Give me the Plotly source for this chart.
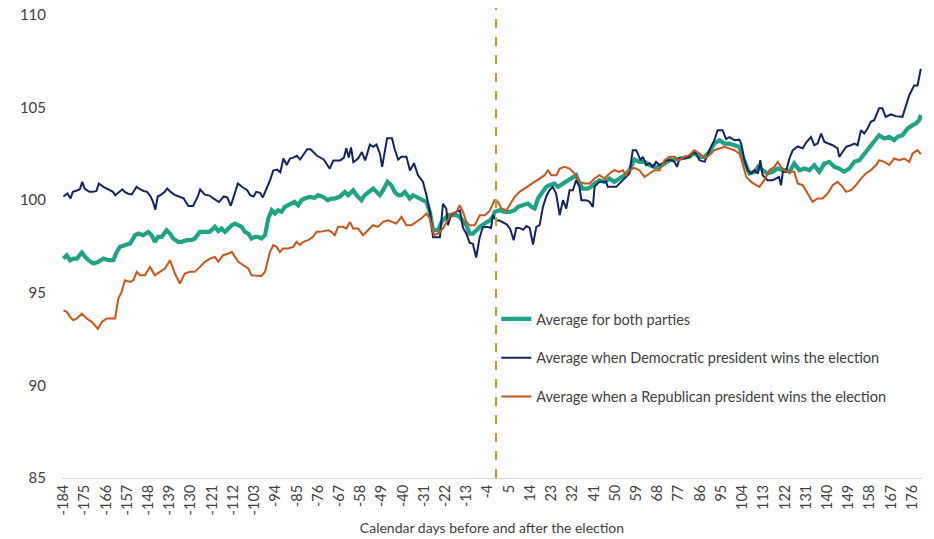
import plotly.graph_objects as go

# ---- data (x = calendar-day position, y = index value) ----
dem_days = [-184, -182.3, -181, -180, -178, -177, -176, -175, -173, -171.5, -170, -169, -167, -166, -164, -163, -162,
            -160.5, -159, -158, -156.5, -155, -153, -151.5, -150, -148.5, -147, -146, -145, -144, -142.5, -141, -140,
            -138.5, -137, -135, -133, -131, -129, -127, -126, -124, -122, -120.4, -118, -116, -114.5, -113, -111.5,
            -110, -108, -106, -104.8, -103.3, -102.2, -100.6, -99.4, -97.6, -96.3, -95, -93.3, -92, -90.7, -89.3,
            -87.9, -86.5, -85, -83.6, -80.6, -79.2, -76.4, -73.6, -71, -69.5, -66.6, -65, -64, -63, -62, -61, -59,
            -57.4, -56, -54, -52.6, -51.2, -49.7, -48.8, -46.7, -44.6, -43.6, -42, -40.6, -38.5, -37, -35.3, -33.6,
            -31.5, -30, -28.5, -27.2, -24.3, -23, -21.6, -20.9, -19.6, -17.2, -15.8, -14.5, -13.1, -11.7, -10.3, -8.9,
            -7.5, -6.1, -4, -2.6, -1.8, -0.4, 1, 2.5, 4, 5.5, 7, 8.1, 9.5, 11, 12.4, 13.8, 15.2, 16.6, 18, 19.4, 20.8,
            22.2, 23.6, 25, 26.5, 27.9, 29.3, 30.7, 32.1, 33.5, 34.9, 35.7, 37.7, 39.2, 40.6, 41.3, 43.4, 46.2, 46.9,
            50.5, 51.9, 53.3, 54.7, 56.1, 57.5, 59, 60.8, 61.8, 63.2, 64.6, 66, 67.4, 68.8, 70.3, 71.7, 73.8, 75.2,
            76.3, 77.3, 79.4, 81.5, 83, 84.4, 85.8, 88, 89.3, 90.7, 92.1, 93.5, 95.6, 97.1, 98.5, 100.6, 102.7, 103.5,
            104.9, 106.3, 107.7, 109.2, 110.6, 111.6, 112.6, 114.7, 116.8, 118.2, 119.6, 120.4, 121.2, 122.5, 124,
            125.4, 127.5, 129.6, 131, 133.1, 134.5, 135.9, 137.4, 138.8, 140.9, 142.3, 144.4, 145.1, 146.5, 148, 150,
            151.5, 152.9, 154.3, 155.7, 157.1, 158.5, 159.9, 162, 163.4, 164.8, 167, 169.1, 171.9, 174.8, 176.9,
            178.3, 179.7]
dem_vals = [100.2, 100.36, 100.09, 100.45, 100.54, 100.6, 100.99, 100.63, 100.45, 100.45, 100.5, 100.9, 100.72, 100.65,
            100.55, 100.45, 100.27, 100.45, 100.59, 100.45, 100.35, 100.31, 100.72, 100.6, 100.5, 100.45, 100.2, 99.91,
            99.49, 100.2, 100.3, 100.45, 100.63, 100.45, 100.3, 100.2, 100.1, 99.69, 99.69, 100.2, 100.58, 100.3,
            100.25, 100.1, 99.9, 100.2, 100.15, 99.7, 100.3, 100.9, 100.7, 100.54, 100.27, 100.2, 100.45, 100.4,
            100.15, 100.7, 101.1, 101.6, 101.65, 101.5, 102.25, 101.9, 102.25, 102.3, 102.4, 102.2, 102.75, 102.75,
            102.4, 102.2, 101.7, 102.15, 102.15, 102.3, 102.8, 102.3, 102.85, 102.05, 102.25, 102.6, 102.15, 103.0,
            102.88, 103.0, 102.5, 101.8, 103.35, 103.35, 102.8, 102.2, 102.35, 102.35, 101.6, 102.0, 101.35, 101.0,
            100.27, 99.35, 98.0, 98.0, 99.8, 99.55, 98.65, 99.2, 99.4, 99.45, 98.5, 98.2, 97.7, 97.65, 96.9, 97.95,
            98.55, 98.55, 98.5, 99.19, 98.92, 98.9, 98.8, 98.7, 98.45, 97.84, 98.5, 98.5, 98.4, 98.6, 98.5, 97.6,
            98.56, 98.65, 99.64, 100.2, 100.54, 100.72, 100.36, 99.19, 100.0, 99.55, 100.54, 100.54, 101.08, 100.72,
            100.0, 100.0, 99.91, 99.64, 100.72, 101.0, 101.0, 100.72, 100.72, 100.9, 101.08, 101.26, 101.44, 102.7,
            102.7, 102.16, 102.34, 101.9, 102.0, 101.8, 102.07, 101.9, 102.0, 102.16, 102.16, 102.07, 101.8, 102.25,
            102.25, 102.34, 102.6, 102.5, 102.16, 102.07, 102.5, 102.88, 103.24, 103.78, 103.78, 103.3, 103.4, 103.24,
            103.27, 103.06, 102.16, 101.62, 101.44, 101.62, 101.44, 102.16, 101.35, 101.08, 101.08, 101.17, 101.26,
            100.8, 101.55, 101.53, 102.27, 102.7, 102.9, 102.8, 103.1, 103.42, 102.97, 103.06, 103.6, 103.15, 103.06,
            102.97, 102.8, 102.34, 102.6, 102.88, 102.97, 103.06, 102.97, 103.78, 103.6, 103.87, 104.23, 104.32,
            104.96, 104.96, 104.5, 104.63, 104.54, 104.5, 105.67, 106.2, 106.2, 107.1]

avg_days = [-184, -182.6, -181.2, -179.8, -178.3, -176.2, -174.8, -173.4, -171.3, -169.2, -167, -164.9, -162.8, -161.4,
            -160, -157.9, -155.7, -153.6, -152.2, -150.1, -148, -146.6, -145.2, -143.8, -142.3, -140.2, -138.8, -137.4,
            -135.3, -133.9, -131.8, -129.7, -128.3, -126.1, -124, -122, -119.7, -118.3, -116.9, -115.5, -114, -112.6,
            -111.2, -109.8, -108.4, -107, -105.6, -104.2, -102.8, -101.4, -100, -98.5, -97.1, -95.7, -94.3, -92.9,
            -91.5, -90.1, -88.7, -87.3, -85.9, -84.4, -83, -81.6, -79.5, -77.4, -76, -73.9, -71.8, -70.4, -69, -66.8,
            -64.6, -63.2, -61.1, -59.7, -57.6, -56.2, -54, -52.6, -51.2, -49.8, -48.4, -46.5, -44.9, -43.5, -42,
            -40.6, -39.2, -37.1, -35.7, -34.3, -32.2, -30, -28.6, -27.2, -25.1, -23.6, -22.2, -20.8, -19.4, -17.3,
            -15.9, -14.5, -13.1, -11.7, -10.3, -8.8, -7.4, -5.3, -3.2, -1.8, -1.1, 1, 3.1, 5.3, 7.4, 8.8, 10.9, 13,
            14.5, 15.9, 17.3, 19.4, 20.8, 22.2, 24.3, 25.8, 27.9, 30, 32.1, 33.5, 34.9, 36.3, 38.4, 39.8, 41.3, 43.4,
            45.5, 47.6, 49.7, 51.9, 54, 56.1, 58.2, 60.3, 62.5, 64.6, 66.7, 68.8, 71, 73.1, 75.2, 77.3, 79.4, 81.5,
            83.6, 85.8, 87.9, 90, 92.1, 94.3, 96.4, 98.5, 100.6, 102.7, 104.1, 105.6, 107, 109.2, 110.6, 112.7, 114.7,
            116.8, 118.9, 121, 122.5, 124, 126, 128.2, 130.3, 132.4, 134.5, 136.6, 138.8, 140.9, 143, 145.1, 147.2,
            149.4, 151.5, 153.6, 155.7, 157.8, 159.9, 162, 164.2, 166.3, 168.4, 169.8, 171.9, 174.1, 176.2, 177.6,
            179, 179.7]
avg_vals = [96.85, 97.03, 96.76, 96.85, 96.85, 97.17, 96.94, 96.76, 96.58, 96.67, 96.85, 96.76, 96.76, 97.21, 97.48,
            97.57, 97.66, 98.11, 98.2, 98.11, 98.29, 98.11, 97.75, 98.02, 98.02, 98.38, 98.2, 97.93, 97.75, 97.75,
            97.84, 97.84, 97.93, 98.29, 98.3, 98.29, 98.56, 98.33, 98.47, 98.29, 98.47, 98.65, 98.74, 98.65, 98.56,
            98.29, 98.2, 97.93, 98.02, 98.02, 97.93, 98.11, 99.01, 99.46, 99.28, 99.46, 99.37, 99.64, 99.73, 99.82,
            99.91, 99.73, 100.0, 100.09, 100.18, 100.13, 100.27, 100.18, 100.0, 100.09, 100.09, 100.18, 100.45,
            100.27, 100.54, 100.27, 100.0, 100.27, 100.45, 100.63, 100.45, 100.27, 100.54, 100.99, 100.81, 100.45,
            100.27, 100.27, 100.45, 100.09, 100.27, 100.18, 100.0, 99.91, 99.37, 98.38, 98.38, 98.83, 99.01, 99.19,
            99.19, 99.19, 99.1, 98.83, 98.65, 98.2, 98.2, 98.38, 98.56, 98.74, 98.9, 99.1, 99.37, 99.46, 99.37,
            99.37, 99.46, 99.64, 99.73, 99.82, 99.64, 99.55, 100.09, 100.45, 100.72, 100.81, 100.9, 100.72, 100.9,
            101.08, 101.26, 101.35, 100.9, 100.63, 100.63, 100.72, 100.9, 101.08, 100.99, 101.17, 100.99, 101.17,
            101.35, 101.62, 102.2, 102.07, 102.07, 101.9, 101.8, 101.8, 101.98, 102.16, 102.2, 102.25, 102.34,
            102.34, 102.56, 102.34, 102.34, 102.61, 103.06, 103.24, 103.06, 103.06, 102.97, 102.88, 102.34, 101.8,
            101.44, 101.53, 101.8, 101.62, 101.44, 101.53, 101.71, 101.62, 101.62, 101.53, 101.98, 101.62, 101.71,
            101.62, 101.89, 101.53, 101.98, 102.07, 101.8, 101.71, 101.53, 101.71, 102.07, 102.16, 102.52, 102.88,
            103.24, 103.51, 103.33, 103.42, 103.24, 103.42, 103.51, 103.87, 104.05, 104.14, 104.32, 104.6]

rep_days = [-184, -182.6, -181.2, -179.8, -178.3, -176.2, -174.1, -172, -169.4, -167.7, -165.6, -163.5, -162.1, -160.7,
            -159.3, -157.9, -155.7, -154.3, -152.9, -151.5, -149.4, -147.3, -145.2, -143.1, -140.9, -138.8, -136.7,
            -134.6, -132.5, -130.4, -128.3, -126.1, -124, -121.8, -119.7, -118.3, -116.2, -114, -112.6, -111.2, -109.8,
            -107.7, -105.6, -104.2, -102.1, -100, -98.5, -96.4, -95, -93.6, -92.2, -90.8, -88.7, -86.5, -85.1, -83.7,
            -82.3, -80.2, -78.1, -76.6, -75.2, -73.1, -71.7, -70.3, -68.9, -67.5, -65.4, -64, -62.5, -61.1, -59, -56.9,
            -54.8, -52.7, -50.6, -48.4, -46.3, -44.9, -42.8, -40.6, -38.5, -36.4, -34.3, -32.2, -30, -28.6, -26.8,
            -25.1, -23, -21.5, -19.4, -17.3, -15.9, -14.5, -13.1, -11.7, -9.5, -7.4, -5.3, -3.2, -1.1, 0.3, 1.8, 3.9,
            5.3, 7.4, 9.5, 11.6, 13.7, 15.9, 18, 20.1, 21.5, 22.9, 25.1, 26.5, 28.6, 30.7, 32.8, 34.9, 37, 39.2, 41.3,
            43.4, 45.5, 47.6, 49.7, 51.8, 53.3, 54.7, 56.1, 58.2, 60.3, 62.5, 64.6, 66.7, 68.8, 71, 73.1, 75.2, 77.3,
            79.4, 81.5, 83.6, 85.8, 87.9, 90, 92.1, 94.3, 96.4, 98.5, 100.6, 102.7, 104.1, 105.6, 107.7, 109.8, 111.2,
            113.3, 115.5, 117.6, 119, 120.4, 121.8, 124, 126, 127.5, 129.6, 131.7, 133.8, 135.9, 138, 140.2, 142.3,
            144.4, 146.5, 148, 150.1, 152.2, 154.3, 156.4, 158.5, 160.7, 162.1, 164.2, 166.3, 168.4, 170.6, 172.7,
            174.8, 176.2, 178.3, 179.7]
rep_vals = [94.05, 93.97, 93.7, 93.52, 93.61, 93.87, 93.61, 93.43, 93.06, 93.43, 93.61, 93.61, 93.61, 94.69, 95.05,
            95.68, 95.59, 95.68, 96.13, 95.95, 95.95, 96.4, 95.95, 96.13, 96.31, 96.76, 96.04, 95.5, 96.04, 96.13,
            96.13, 96.4, 96.67, 96.85, 96.94, 96.67, 97.03, 97.12, 97.21, 96.94, 96.67, 96.49, 96.31, 95.95, 95.91,
            95.91, 96.13, 97.21, 97.57, 97.48, 97.21, 97.39, 97.39, 97.48, 97.75, 97.57, 97.75, 97.84, 98.02, 98.29,
            98.29, 98.33, 98.38, 98.29, 98.11, 98.56, 98.56, 98.47, 98.83, 98.47, 98.47, 98.11, 98.38, 98.65, 98.56,
            98.83, 98.92, 98.83, 98.74, 99.1, 98.65, 98.65, 98.83, 99.01, 99.28, 99.01, 98.11, 98.2, 98.47, 98.83,
            99.28, 99.37, 99.73, 99.37, 98.83, 98.65, 98.65, 99.19, 99.19, 99.42, 100.0, 99.91, 99.55, 99.46, 99.73,
            100.18, 100.45, 100.63, 100.81, 100.99, 101.17, 101.35, 101.62, 101.35, 101.35, 101.71, 101.8, 101.71,
            101.44, 100.99, 100.9, 100.9, 101.17, 101.35, 101.17, 101.44, 101.62, 101.53, 101.62, 101.35, 101.62,
            101.75, 101.62, 101.26, 101.44, 101.62, 101.62, 102.16, 102.34, 102.34, 102.16, 102.34, 102.43, 102.7,
            102.52, 102.25, 102.43, 102.7, 102.79, 102.88, 102.79, 102.7, 102.52, 101.98, 101.26, 100.99, 100.81,
            100.72, 101.08, 101.62, 101.8, 102.07, 101.8, 101.6, 101.53, 101.53, 100.9, 100.81, 100.36, 99.91, 100.09,
            100.09, 100.36, 100.81, 100.99, 100.72, 100.45, 100.54, 100.81, 101.17, 101.44, 101.62, 101.9, 102.16,
            102.07, 101.9, 102.25, 102.16, 102.25, 102.07, 102.52, 102.7, 102.47]

tick_vals = [-184, -175, -166, -157, -148, -139, -130, -121, -112, -103, -94, -85, -76, -67, -58, -49, -40, -31, -22,
             -13, -4, 5, 14, 23, 32, 41, 50, 59, 68, 77, 86, 95, 104, 113, 122, 131, 140, 149, 158, 167, 176]
tick_text = [str(v) for v in tick_vals]
y_ticks = [85, 90, 95, 100, 105, 110]

names = ["Average for both parties",
         "Average when Democratic president wins the election",
         "Average when a Republican president wins the election"]

FONT = "Lato, Carlito, Calibri, sans-serif"

fig = go.Figure()
fig.add_trace(go.Scatter(x=avg_days, y=avg_vals, mode="lines", name=names[0], legendgroup="a",
                         line=dict(color="#1fa384", width=4.2)))
fig.add_trace(go.Scatter(x=dem_days, y=dem_vals, mode="lines", name=names[1], legendgroup="d",
                         line=dict(color="#14245e", width=2)))
fig.add_trace(go.Scatter(x=rep_days, y=rep_vals, mode="lines", name=names[2], legendgroup="r",
                         line=dict(color="#c8561c", width=2)))

fig.add_shape(type="line", xref="x", yref="paper", x0=-0.5, x1=-0.5, y0=0, y1=1.015,
              line=dict(color="#c09a2a", width=2, dash="dash"))

fig.update_layout(
    width=934, height=539,
    margin=dict(l=62, r=12, t=15, b=61),
    paper_bgcolor="white", plot_bgcolor="white",
    font=dict(family=FONT, size=14, color="#595959"),
    showlegend=True,
    legend=dict(x=0.505, y=0.378, xanchor="left", yanchor="top", bgcolor="rgba(0,0,0,0)",
                font=dict(size=14.5, color="#404040"), tracegroupgap=17, itemwidth=30),
    xaxis=dict(range=[-184.6, 180.2], tickmode="array", tickvals=tick_vals, ticktext=tick_text,
               tickangle=-90, showgrid=False, zeroline=False, showline=True, linecolor="#d9d9d9",
               linewidth=1, ticks="", tickfont=dict(size=14.5, color="#404040"), automargin=False,
               title=dict(text="Calendar days before and after the election", standoff=8,
                          font=dict(size=14, color="#404040"))),
    yaxis=dict(range=[85, 110], tickmode="array", tickvals=y_ticks, showgrid=False, zeroline=False,
               showline=False, ticks="", ticklabelstandoff=15, tickfont=dict(size=15, color="#404040"),
               automargin=False),
)

fig.write_html("out.html", config={"displayModeBar": False},
               post_script="document.body.style.margin='0';document.body.style.padding='0';")
